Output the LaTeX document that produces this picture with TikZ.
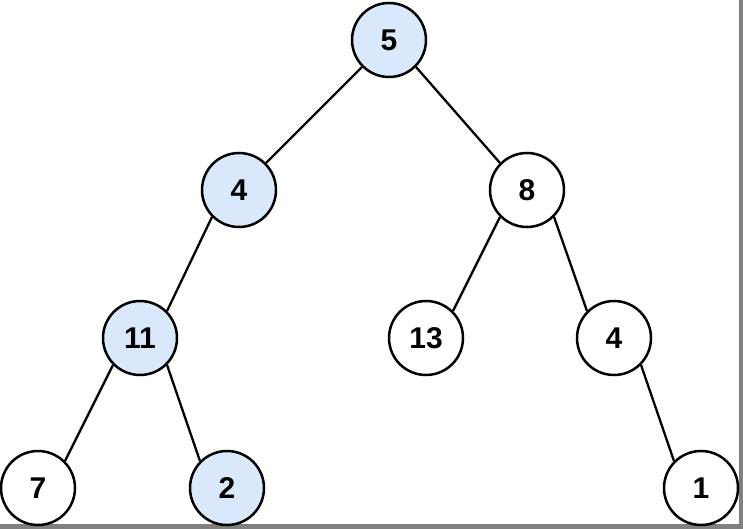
\documentclass[tikz,border=0pt]{standalone}
\usepackage{fontspec}
\setmainfont{Liberation Sans}
\definecolor{hl}{HTML}{DAE8FC}
\definecolor{frame}{HTML}{808080}
\newcommand{\numfont}{\fontsize{30pt}{36pt}\selectfont\bfseries}
\begin{document}
\begin{tikzpicture}[x=1pt,y=-1pt,
  tn/.style={circle,draw=black,line width=2.5pt,fill=white,minimum size=74pt,inner sep=0pt,font=\numfont},
  hn/.style={tn,fill=hl},
  ed/.style={line width=2.3pt}]
\useasboundingbox (0,0) rectangle (743,529);
\fill[frame] (739,0) rectangle (743,529);
\fill[frame] (0,524) rectangle (743,529);
\node[hn] (n5) at (389,40) {5};
\node[hn] (n4) at (239,190) {4};
\node[tn] (n8) at (527,190) {8};
\node[hn] (n11) at (140,338) {11};
\node[tn] (n13) at (426,338) {13};
\node[tn] (n4b) at (614,338) {4};
\node[tn] (n7) at (38,488) {7};
\node[hn] (n2) at (227,488) {2};
\node[tn] (n1) at (701,488) {1};
\draw[ed] (n5.south west) -- (n4.north east);
\draw[ed] (n5.south east) -- (n8.north west);
\draw[ed] (n4.south west) -- (n11.north east);
\draw[ed] (n8.south west) -- (n13.north east);
\draw[ed] (n8.south east) -- (n4b.north west);
\draw[ed] (n11.south west) -- (n7.north east);
\draw[ed] (n11.south east) -- (n2.north west);
\draw[ed] (n4b.south east) -- (n1.north west);
\end{tikzpicture}
\end{document}
